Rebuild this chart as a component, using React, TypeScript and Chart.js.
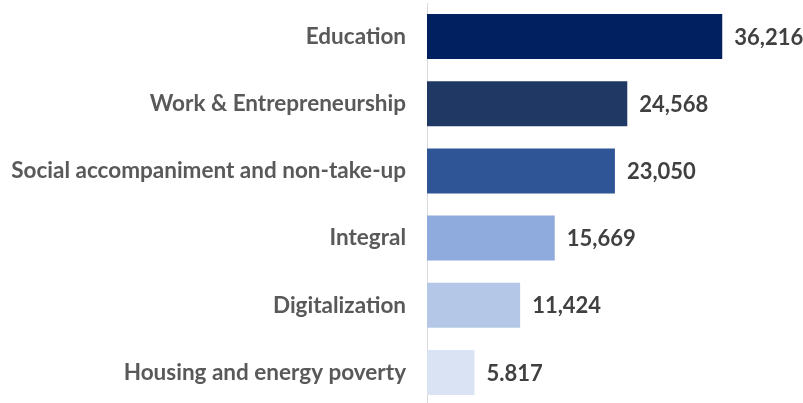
import React, { useEffect, useRef } from "react";
import { Chart, registerables } from "chart.js";

Chart.register(...registerables);

const categories = [
  "Education",
  "Work & Entrepreneurship",
  "Social accompaniment and non-take-up",
  "Integral",
  "Digitalization",
  "Housing and energy poverty",
];
const values = [36216, 24568, 23050, 15669, 11424, 5817];
const valueLabels = ["36,216", "24,568", "23,050", "15,669", "11,424", "5.817"];
const barColors = ["#002060", "#203864", "#2F5597", "#8FAADC", "#B4C7E7", "#DAE3F3"];

const valueLabelPlugin = {
  id: "valueLabels",
  afterDatasetsDraw(chart: any) {
    const ctx = chart.ctx;
    const meta = chart.getDatasetMeta(0);
    ctx.save();
    ctx.font = "bold 22px Lato";
    ctx.fillStyle = "#404040";
    ctx.textAlign = "left";
    ctx.textBaseline = "middle";
    meta.data.forEach((bar: any, i: number) => {
      ctx.fillText(valueLabels[i], bar.x + 12, bar.y + 1);
    });
    ctx.restore();
  },
};

export default function App() {
  const ref = useRef<HTMLCanvasElement | null>(null);
  useEffect(() => {
    document.body.style.margin = "0";
    const chart = new Chart(ref.current as HTMLCanvasElement, {
      type: "bar",
      data: {
        labels: categories,
        datasets: [
          {
            data: values,
            backgroundColor: barColors,
            borderWidth: 0,
            barPercentage: 0.67,
            categoryPercentage: 1,
          },
        ],
      },
      options: {
        indexAxis: "y",
        animation: false,
        responsive: false,
        maintainAspectRatio: false,
        layout: { padding: { top: 3, right: 1, bottom: 0, left: 0 } },
        plugins: { legend: { display: false }, tooltip: { enabled: false } },
        scales: {
          x: {
            display: false,
            min: 0,
            max: 46000,
          },
          y: {
            grid: { display: false, drawTicks: false },
            border: { display: true, color: "#D9D9D9", width: 1 },
            ticks: {
              color: "#595959",
              font: { family: "Lato", size: 22.5, weight: "bold" },
              padding: 21,
            },
            afterFit(scale: any) {
              scale.width = 427;
              scale.paddingTop = 0;
              scale.paddingBottom = 0;
            },
          },
        },
      },
      plugins: [valueLabelPlugin],
    });
    return () => chart.destroy();
  }, []);
  return (
    <div style={{ width: 803, height: 406, position: "relative" }}>
      <canvas ref={ref} width={803} height={406} style={{ display: "block" }} />
    </div>
  );
}
